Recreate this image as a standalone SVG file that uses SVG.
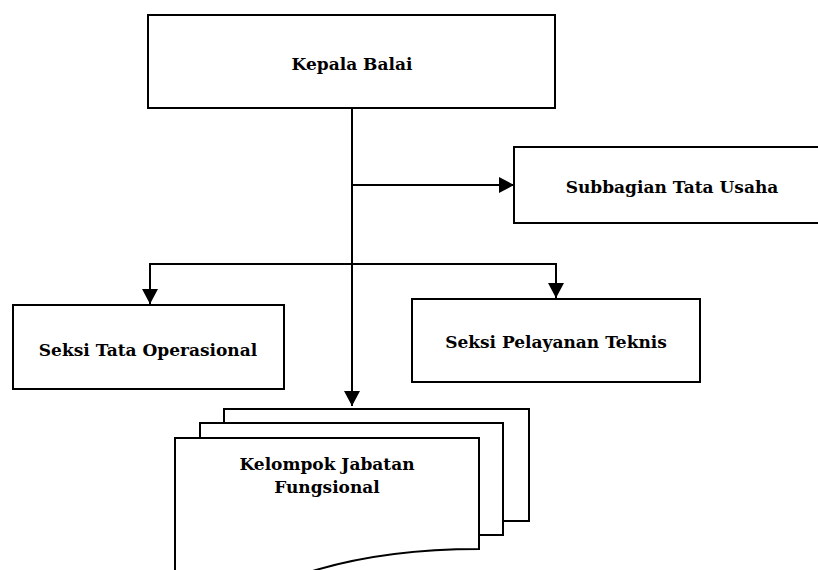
<svg xmlns="http://www.w3.org/2000/svg" width="818" height="570" viewBox="0 0 818 570">
<defs>
<style>
.box{fill:#fff;stroke:#000;stroke-width:2}
.conn{fill:none;stroke:#000;stroke-width:2}
.lbl{font-family:"DejaVu Serif","Liberation Serif",serif;font-weight:bold;font-size:17px;fill:#000;text-anchor:middle}
</style>
<marker id="arr" markerUnits="userSpaceOnUse" markerWidth="16" markerHeight="16" viewBox="0 0 16 16" refX="15" refY="8" orient="auto">
<path d="M0,0 L15,8 L0,16 Z" fill="#000"/>
</marker>
</defs>
<rect width="818" height="570" fill="#fff"/>
<g id="connectors">
<line class="conn" x1="352" y1="108" x2="352" y2="406" marker-end="url(#arr)"/>
<line class="conn" x1="352" y1="185" x2="514" y2="185" marker-end="url(#arr)"/>
<polyline class="conn" points="150,304 150,264 556,264 556,298"/>
<line class="conn" x1="150" y1="280" x2="150" y2="304" marker-end="url(#arr)"/>
<line class="conn" x1="556" y1="280" x2="556" y2="298" marker-end="url(#arr)"/>
</g>
<g id="kepala-balai">
<rect class="box" x="148" y="15" width="407" height="93"/>
<text class="lbl" x="352" y="70">Kepala Balai</text>
</g>
<g id="subbagian-tata-usaha">
<rect class="box" x="514" y="147" width="310" height="76"/>
<text class="lbl" x="672" y="193">Subbagian Tata Usaha</text>
</g>
<g id="seksi-tata-operasional">
<rect class="box" x="13" y="305" width="271" height="84"/>
<text class="lbl" x="148" y="356">Seksi Tata Operasional</text>
</g>
<g id="seksi-pelayanan-teknis">
<rect class="box" x="412" y="299" width="288" height="83"/>
<text class="lbl" x="556" y="348">Seksi Pelayanan Teknis</text>
</g>
<g id="kelompok-jabatan-fungsional">
<rect class="box" x="224" y="409" width="305" height="112"/>
<rect class="box" x="200" y="423" width="303" height="112"/>
<path class="box" d="M175,438 L479,438 L479,549 C430,549 370,554 316,570 C270,584 220,592 175,590 Z"/>
<text class="lbl" x="327" y="470">Kelompok Jabatan</text>
<text class="lbl" x="327" y="493">Fungsional</text>
</g>
</svg>
